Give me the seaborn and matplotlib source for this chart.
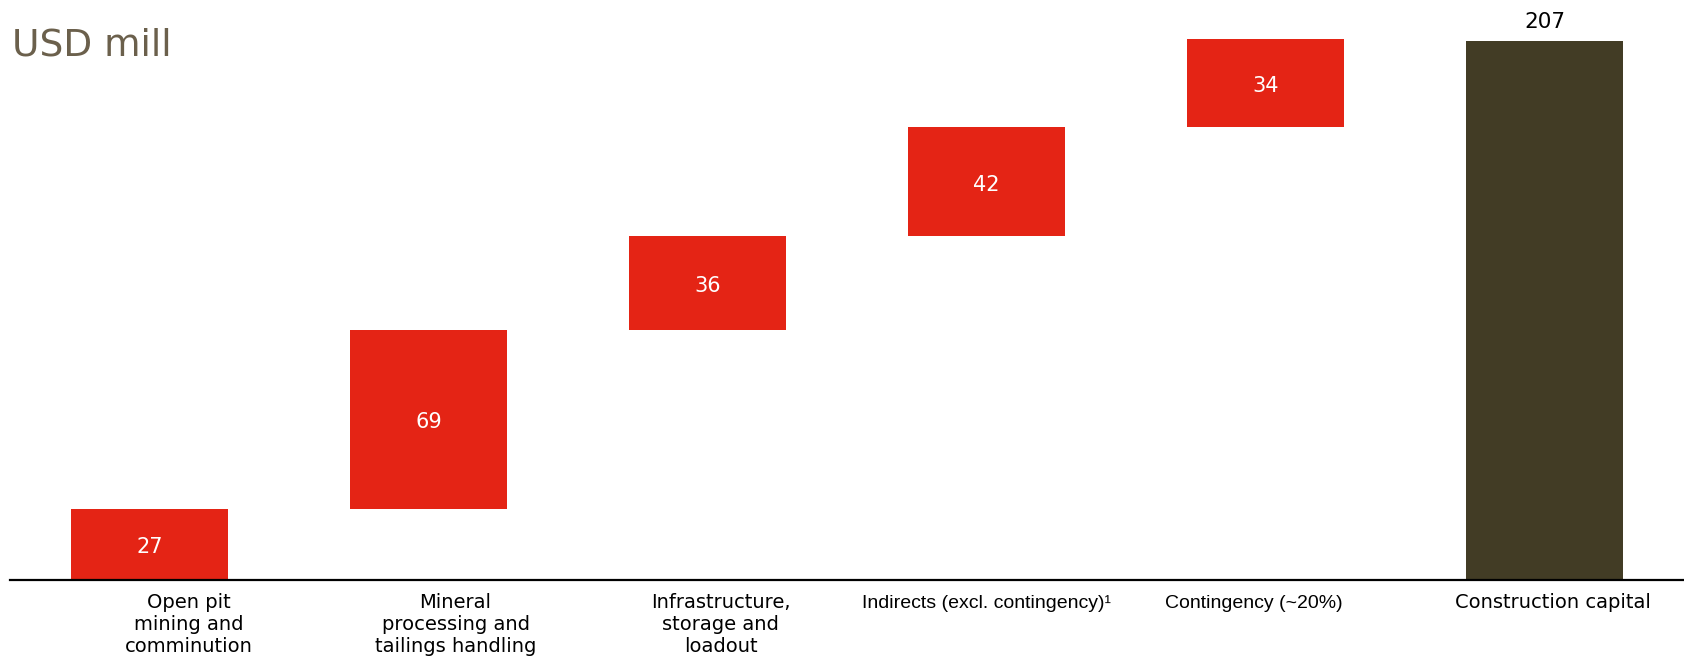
import matplotlib
matplotlib.use("Agg")
import matplotlib.pyplot as plt
import matplotlib.transforms as mtransforms
import seaborn as sns
import pandas as pd
import numpy as np

# ---- data ----
categories = [
    "Open pit mining and comminution",
    "Mineral processing and tailings handling",
    "Infrastructure, storage and loadout",
    "Indirects (excl. contingency)",
    "Contingency (~20%)",
    "Construction capital",
]
tick_labels = [
    "Open pit\nmining and\ncomminution",
    "Mineral\nprocessing and\ntailings handling",
    "Infrastructure,\nstorage and\nloadout",
    "Indirects (excl. contingency)\u00b9",
    "Contingency (~20%)",
    "Construction capital",
]
step_values = [27, 69, 36, 42, 34]
total_value = 207
step_labels = ["27", "69", "36", "42", "34"]
total_label = "207"
unit_label = "USD mill"

# ---- style / layout ----
RED = "#E42415"
DARK = "#423C25"
UNIT_COLOR = "#6B604C"
label_fonts = ["DejaVu Sans", "DejaVu Sans", "DejaVu Sans",
               "Liberation Sans", "Liberation Sans", "DejaVu Sans"]
label_dx_px = [39, 27, 13, 0, -12, 8]
label_dy_px = [-14, -14, -14, -16, -16, -14]

sns.set_style("white")
plt.rcParams["font.family"] = ["DejaVu Sans"]

bottoms = np.concatenate([[0], np.cumsum(step_values)[:-1]])

fig = plt.figure(figsize=(16.84, 6.6), dpi=100)
ax = fig.add_axes([10 / 1684, 80.5 / 660, 1674 / 1684, 579.5 / 660])

steps_df = pd.DataFrame({"category": categories[:5], "value": step_values})
total_df = pd.DataFrame({"category": [categories[5]], "value": [total_value]})

sns.barplot(data=steps_df, x="category", y="value", order=categories,
            bottom=bottoms, color=RED, saturation=1, width=0.56,
            errorbar=None, linewidth=0, ax=ax)
sns.barplot(data=total_df, x="category", y="value", order=categories,
            color=DARK, saturation=1, width=0.56, errorbar=None,
            linewidth=0, ax=ax)

step_texts = ax.bar_label(ax.containers[0], labels=step_labels,
                          label_type="center", color="white", fontsize=15)
for t in step_texts:
    t.xyann = (0, -2)
ax.bar_label(ax.containers[1], labels=[total_label], padding=6.8,
             color="black", fontsize=15.5)

ax.set_xlim(-0.5, 5.5)
ax.set_ylim(0, 222.9)
ax.set_yticks([])
ax.set_xlabel("")
ax.set_ylabel("")
for s in ["left", "right", "top"]:
    ax.spines[s].set_visible(False)
ax.spines["bottom"].set_color("black")
ax.spines["bottom"].set_linewidth(1.6)

ax.set_xticks(range(len(categories)))
ax.set_xticklabels([])
ax.tick_params(axis="x", length=0)

blend = mtransforms.blended_transform_factory(ax.transData, ax.transAxes)
for i, lab in enumerate(tick_labels):
    off = mtransforms.ScaledTranslation(label_dx_px[i] / 100, label_dy_px[i] / 100,
                                        fig.dpi_scale_trans)
    ax.text(i, 0, lab, transform=blend + off, ha="center", va="top",
            multialignment="center", fontsize=14, family=label_fonts[i],
            color="black", linespacing=1.2, clip_on=False)

fig.text(12 / 1684, 1 - 55 / 660, unit_label, fontsize=27,
         color=UNIT_COLOR, ha="left", va="baseline")

fig.savefig("out.png", dpi=100, facecolor="white")
